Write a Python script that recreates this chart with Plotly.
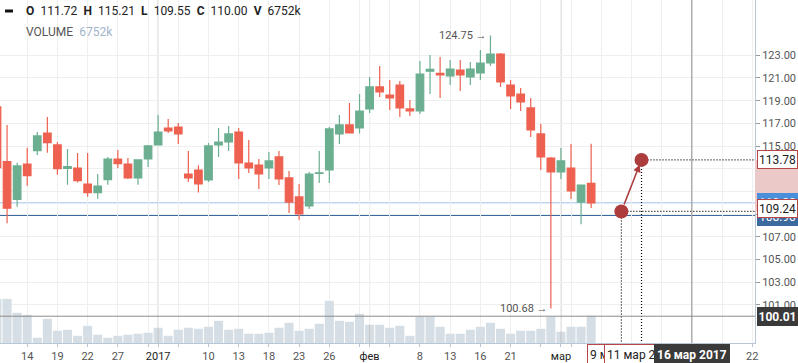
import plotly.graph_objects as go

# ---------------- data ----------------
dates = [
    "2016-12-09", "2016-12-12", "2016-12-13", "2016-12-14", "2016-12-15", "2016-12-16",
    "2016-12-19", "2016-12-20", "2016-12-21", "2016-12-22", "2016-12-23",
    "2016-12-26", "2016-12-27", "2016-12-28", "2016-12-29", "2016-12-30",
    "2017-01-03", "2017-01-04", "2017-01-05", "2017-01-06",
    "2017-01-09", "2017-01-10", "2017-01-11", "2017-01-12", "2017-01-13",
    "2017-01-16", "2017-01-17", "2017-01-18", "2017-01-19", "2017-01-20",
    "2017-01-23", "2017-01-24", "2017-01-25", "2017-01-26", "2017-01-27",
    "2017-01-30", "2017-01-31", "2017-02-01", "2017-02-02", "2017-02-03",
    "2017-02-06", "2017-02-07", "2017-02-08", "2017-02-09", "2017-02-10",
    "2017-02-13", "2017-02-14", "2017-02-15", "2017-02-16", "2017-02-17",
    "2017-02-20", "2017-02-21", "2017-02-22", "2017-02-24",
    "2017-02-27", "2017-02-28", "2017-03-01", "2017-03-02", "2017-03-03",
    "2017-03-06",
]
opens = [118.45, 113.63, 110.31, 113.42, 114.60, 116.15, 115.10, 113.04, 113.07, 111.66,
         110.89, 112.04, 113.86, 113.42, 112.19, 113.86, 115.10, 116.59, 116.68, 112.54,
         112.89, 112.01, 115.10, 115.36, 116.24, 113.51, 113.33, 113.07, 114.04, 112.19,
         110.52, 109.72, 112.60, 112.89, 116.07, 116.86, 116.60, 118.27, 120.21, 119.50,
         120.38, 118.27, 118.09, 121.60, 121.40, 121.18, 121.70, 121.09, 121.44, 122.32,
         123.11, 120.38, 119.59, 118.36, 116.07, 113.95, 112.72, 113.07, 110.07, 111.72]
highs = [118.90, 116.86, 113.54, 114.86, 116.24, 117.56, 115.36, 114.74, 114.39, 114.39,
         112.54, 114.04, 114.66, 113.95, 113.80, 115.10, 117.74, 117.39, 117.04, 114.57,
         113.30, 115.27, 116.60, 116.77, 116.60, 115.54, 113.86, 114.48, 114.57, 112.81,
         111.66, 112.72, 114.57, 116.68, 117.74, 118.80, 119.59, 121.09, 122.06, 120.82,
         120.74, 119.06, 122.50, 123.03, 122.85, 122.59, 122.59, 122.41, 123.47, 124.75,
         123.20, 120.82, 120.12, 119.24, 116.95, 114.04, 114.83, 115.19, 111.60, 115.21]
lows = [112.60, 108.20, 109.66, 111.51, 114.22, 114.42, 112.48, 111.60, 111.78, 110.54,
        110.37, 111.60, 113.07, 112.10, 111.60, 113.16, 115.10, 116.15, 115.19, 111.84,
        110.90, 111.84, 114.04, 114.57, 112.10, 112.63, 111.22, 112.10, 111.57, 109.11,
        108.49, 109.46, 111.75, 111.75, 115.19, 116.10, 116.10, 117.92, 119.33, 118.18,
        117.56, 117.65, 117.83, 119.59, 119.24, 120.38, 119.85, 120.38, 120.82, 122.06,
        120.21, 118.27, 118.09, 115.80, 112.89, 100.68, 112.10, 110.34, 108.11, 109.55]
closes = [113.10, 109.52, 113.25, 112.39, 115.89, 115.30, 113.01, 113.19, 111.95, 110.89,
          111.48, 113.86, 113.45, 112.19, 113.78, 115.01, 116.24, 116.33, 116.07, 112.19,
          111.66, 115.01, 115.36, 116.07, 113.51, 113.07, 112.54, 113.69, 112.10, 110.07,
          109.02, 112.54, 112.65, 116.51, 116.86, 116.15, 118.09, 120.21, 119.77, 119.24,
          118.36, 118.09, 121.35, 121.75, 121.26, 121.79, 121.26, 121.79, 122.32, 123.11,
          120.65, 119.41, 118.89, 116.42, 114.04, 112.72, 113.69, 111.04, 111.57, 110.00]
volumes_k = [10900, 10940, 7480, 6990, 1310, 6000, 3040, 3290, 1800, 4270,
             2050, 1310, 1800, 2050, 2300, 2540, 3780, 1800, 3290, 3780,
             3530, 4030, 5510, 3290, 3530, 2300, 2300, 2540, 3780, 5010,
             3040, 3530, 4770, 10450, 5510, 5260, 7240, 4520, 4520, 3780,
             4270, 1800, 6500, 6500, 4030, 2300, 2300, 3290, 4030, 5010,
             3530, 2300, 3040, 3040, 3530, 6500, 2790, 4030, 4030, 6752]

future_dates = ["2017-03-%02d" % d for d in range(7, 23)]

tick_labels = {
    "2016-12-14": "14", "2016-12-19": "19", "2016-12-22": "22", "2016-12-27": "27",
    "2017-01-03": "2017", "2017-01-10": "10", "2017-01-13": "13", "2017-01-18": "18",
    "2017-01-23": "23", "2017-01-26": "26", "2017-02-01": "фев", "2017-02-08": "8",
    "2017-02-13": "13", "2017-02-16": "16", "2017-02-21": "21", "2017-03-01": "мар",
    "2017-03-22": "22",
}
month_starts = ["2017-01-03", "2017-02-01", "2017-03-01"]
price_ticks = [101, 103, 105, 107, 109, 111, 113, 115, 117, 119, 121, 123]

drawing_dates = ["2017-03-09", "2017-03-11"]
drawing_prices = [109.24, 113.78]
crosshair_date = "2017-03-16"
crosshair_price = 100.01
dark_line_price = 108.90
ru_months = ["янв", "фев", "мар", "апр", "май", "июн", "июл", "авг", "сен", "окт", "ноя", "дек"]

# ---------------- helpers ----------------
all_dates = dates + future_dates
slot = {d: i for i, d in enumerate(all_dates)}
xs = [slot[d] for d in dates]

X_RANGE = [0.298, 75.27]
Y_RANGE = [97.65, 127.87]
PLOT_W, PLOT_H = 755, 343
GREEN = "#6bae90"
RED = "#ee6150"
PT = "#ad3d3d"


def ypaper(p):
    return (p - Y_RANGE[0]) / (Y_RANGE[1] - Y_RANGE[0])


def ru_date(d):
    y, m, dd = d.split("-")
    return "%d %s %s" % (int(dd), ru_months[int(m) - 1], y)


# ticks: every 3rd slot as grid + labelled dates
tick_slots = sorted(set(list(range(3, len(all_dates), 3)) + [slot[d] for d in tick_labels]))
tick_text = []
for s in tick_slots:
    d = all_dates[s]
    t = tick_labels.get(d, "")
    if d in month_starts:
        t = "<span style='color:#222'>%s</span>" % t
    tick_text.append(t)

fig = go.Figure()

fig.add_trace(go.Bar(x=xs, y=volumes_k, yaxis="y2", width=0.9,
                     marker=dict(color="#d6dee5", line=dict(width=0)),
                     hoverinfo="skip"))

fig.add_trace(go.Candlestick(
    x=xs, open=opens, high=highs, low=lows, close=closes,
    increasing=dict(line=dict(color=GREEN, width=1.2), fillcolor=GREEN),
    decreasing=dict(line=dict(color=RED, width=1.2), fillcolor=RED),
    whiskerwidth=0, hoverinfo="skip"))

fig.add_trace(go.Scatter(x=[slot[d] for d in drawing_dates], y=drawing_prices,
                         mode="markers", marker=dict(size=14, color=PT),
                         hoverinfo="skip"))

shapes = []
# month separator lines
for d in month_starts:
    s = slot[d]
    shapes.append(dict(type="line", xref="x", yref="paper", x0=s, x1=s, y0=0, y1=1,
                       line=dict(color="#c4c4c4", width=1), layer="between"))
    shapes.append(dict(type="line", xref="x", yref="y2", x0=s, x1=s, y0=0,
                       y1=volumes_k[s], line=dict(color="#c4c4c4", width=1), layer="above"))
# last close line and dark line
shapes.append(dict(type="line", xref="paper", yref="y", x0=0, x1=1, y0=closes[-1], y1=closes[-1],
                   line=dict(color="#9fc2ec", width=1), layer="between"))
shapes.append(dict(type="line", xref="paper", yref="y", x0=0, x1=1, y0=dark_line_price,
                   y1=dark_line_price, line=dict(color="#3d6a9e", width=1.3), layer="between"))
# dotted guide lines for the drawing points
for d, p in zip(drawing_dates, drawing_prices):
    s = slot[d]
    shapes.append(dict(type="line", xref="x", yref="y", x0=s, x1=X_RANGE[1], y0=p, y1=p,
                       line=dict(color="#000", width=1.2, dash="1px,2px"), layer="between"))
    shapes.append(dict(type="line", xref="x", yref="y", x0=s, x1=s, y0=p, y1=Y_RANGE[0],
                       line=dict(color="#000", width=1.2, dash="1px,2px"), layer="between"))
# crosshair
cs = slot[crosshair_date]
shapes.append(dict(type="line", xref="x", yref="paper", x0=cs, x1=cs, y0=0, y1=1,
                   line=dict(color="#8c8c8c", width=1)))
shapes.append(dict(type="line", xref="paper", yref="y", x0=0, x1=1, y0=crosshair_price,
                   y1=crosshair_price, line=dict(color="#8c8c8c", width=1)))
# pink range band on price scale
shapes.append(dict(type="rect", xref="paper", yref="paper", x0=1.0, x1=798 / PLOT_W,
                   y0=ypaper(min(drawing_prices)), y1=ypaper(max(drawing_prices)),
                   fillcolor="#ecc9c9", line=dict(width=0), layer="above"))
# header dash symbol
shapes.append(dict(type="line", xref="paper", yref="paper", x0=5 / PLOT_W, x1=13 / PLOT_W,
                   y0=1 - 11 / PLOT_H, y1=1 - 11 / PLOT_H,
                   line=dict(color="#111", width=3)))

ann = []
# high/low markers
imax = highs.index(max(highs))
imin = lows.index(min(lows))
ann.append(dict(x=xs[imax], y=highs[imax], xref="x", yref="y", text="%.2f →" % highs[imax],
                showarrow=False, xanchor="right", yanchor="middle", xshift=-1,
                font=dict(size=11, color="#555")))
ann.append(dict(x=xs[imin], y=lows[imin], xref="x", yref="y", text="%.2f →" % lows[imin],
                showarrow=False, xanchor="right", yanchor="middle", xshift=-1,
                font=dict(size=11, color="#555")))
# arrow between drawing points
ann.append(dict(x=slot[drawing_dates[1]], y=drawing_prices[1], xref="x", yref="y",
                ax=slot[drawing_dates[0]], ay=drawing_prices[0], axref="x", ayref="y",
                text="", showarrow=True, arrowhead=2, arrowsize=1, arrowwidth=1.5,
                arrowcolor=PT, standoff=5, startstandoff=6))


def axis_box(price, text, bg, fg, border, yshift=0, bold=False):
    t = "<b>%s</b>" % text if bold else text
    return dict(x=1, y=price, xref="paper", yref="y", text=t, showarrow=False,
                xanchor="left", yanchor="middle", xshift=2, yshift=yshift,
                bgcolor=bg, bordercolor=border, borderwidth=1, borderpad=1,
                width=37, height=15, align="center",
                font=dict(size=12, color=fg, family="Roboto"))


ann.append(axis_box(closes[-1], "%.2f" % closes[-1], "#4a8fdb", "white", "#4a8fdb"))
ann.append(axis_box(dark_line_price, "%.2f" % dark_line_price, "#3d6a9e", "white", "#3d6a9e", yshift=-1))
ann.append(axis_box(drawing_prices[1], "%.2f" % drawing_prices[1], "white", "#222", "#b84545"))
ann.append(axis_box(drawing_prices[0], "%.2f" % drawing_prices[0], "white", "#222", "#b84545", yshift=3))
ann.append(axis_box(crosshair_price, "%.2f" % crosshair_price, "#3a3a3a", "white", "#3a3a3a", bold=True))


def date_box(d, bg, fg, border, bold=False):
    t = ru_date(d)
    t = "<b>%s</b>" % t if bold else t
    return dict(x=slot[d], y=0, xref="x", yref="paper", text=t, showarrow=False,
                xanchor="center", yanchor="top", yshift=-1, bgcolor=bg, bordercolor=border,
                borderwidth=1, borderpad=2, height=16,
                font=dict(size=12, color=fg, family="Roboto"))


ann.append(date_box(drawing_dates[0], "white", "#222", "#b84545"))
ann.append(date_box(drawing_dates[1], "white", "#222", "#b84545"))
ann.append(date_box(crosshair_date, "#3a3a3a", "white", "#3a3a3a", bold=True))

# header legend
SP = "\u2002"
hdr = SP.join(["<b>O</b>", "%.2f" % opens[-1], "<b>H</b>", "%.2f" % highs[-1],
               "<b>L</b>", "%.2f" % lows[-1], "<b>C</b>", "%.2f" % closes[-1],
               "<b>V</b>", "%dk" % volumes_k[-1]])
ann.append(dict(x=24 / PLOT_W, y=1 - 11 / PLOT_H, xref="paper", yref="paper", text=hdr,
                showarrow=False, xanchor="left", yanchor="middle",
                font=dict(size=12, color="#222", family="Roboto")))
ann.append(dict(x=24 / PLOT_W, y=1 - 32 / PLOT_H, xref="paper", yref="paper",
                text="VOLUME" + SP + "<span style='color:#9fb5ca'>%dk</span>" % volumes_k[-1],
                showarrow=False, xanchor="left", yanchor="middle",
                font=dict(size=12, color="#555", family="Roboto")))

fig.update_layout(
    width=798, height=363, autosize=False,
    margin=dict(l=0, r=43, t=0, b=20, pad=0),
    paper_bgcolor="white", plot_bgcolor="white",
    showlegend=False, hovermode=False,
    boxgap=0.25, boxgroupgap=0.0,
    font=dict(family="Roboto", size=11, color="#555"),
    xaxis=dict(range=X_RANGE, tickmode="array", tickvals=tick_slots, ticktext=tick_text,
               showgrid=True, gridcolor="#efefef", gridwidth=1, zeroline=False,
               showline=True, linecolor="#b8c7d6", ticks="outside", ticklen=3,
               tickcolor="#b8c7d6", tickfont=dict(size=11, color="#555"),
               rangeslider=dict(visible=False), fixedrange=True),
    yaxis=dict(range=Y_RANGE, side="right", tickmode="array", tickvals=price_ticks,
               ticktext=["%.2f" % v for v in price_ticks], showgrid=True,
               gridcolor="#efefef", zeroline=False, showline=True, linecolor="#b8c7d6",
               ticks="outside", ticklen=4, tickcolor="#999",
               tickfont=dict(size=11, color="#555"), fixedrange=True),
    yaxis2=dict(range=[0, 85000], overlaying="y", visible=False, fixedrange=True),
    shapes=shapes, annotations=ann,
)

fig.write_html("out.html")
